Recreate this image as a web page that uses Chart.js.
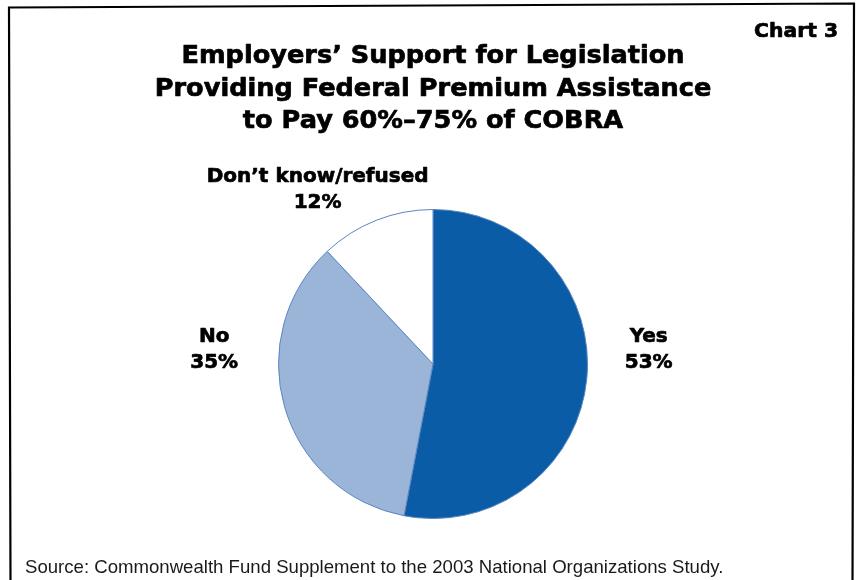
<!DOCTYPE html>
<html>
<head>
<meta charset="utf-8">
<script src="https://cdn.jsdelivr.net/npm/chart.js@4"></script>
<style>
  html, body { margin: 0; padding: 0; background: #fff; }
  #wrap { width: 859px; height: 580px; }
</style>
</head>
<body>
<div id="wrap"><canvas id="cobraChart" width="859" height="580"></canvas></div>
<script>
// --- Survey results ---
const categories = ['Yes', 'No', 'Don\u2019t know/refused'];
const shares = [53, 35, 12];
const sliceColors = ['#0B5CA6', '#9BB5D8', '#FFFFFF'];

const titleLines = [
    'Employers\u2019 Support for Legislation',
    'Providing Federal Premium Assistance',
    'to Pay 60%\u201375% of COBRA'
];
const chartTag = 'Chart 3';
const sourceNote = 'Source: Commonwealth Fund Supplement to the 2003 National Organizations Study.';

// where each slice label sits: angle (deg, clockwise from top) and distance as a factor of the radius
const labelPlacement = [
    { angle: 85.8, dist: 1.40 },
    { angle: 274.2, dist: 1.42 },
    { angle: 326.7, dist: 1.36 }
];

const HEAVY = '"DejaVu Sans", "Liberation Sans", Arial, sans-serif';
const PLAIN = '"Liberation Sans", Arial, sans-serif';

// bold text with a thin outline so it reads as a black weight
function heavyText(ctx, text, x, y) {
    ctx.fillText(text, x, y);
    ctx.strokeText(text, x, y);
}

// frame, headings, source line and slice labels
const decorPlugin = {
    id: 'decor',
    afterDraw(chart) {
        const ctx = chart.ctx;
        ctx.save();

        // outer frame (open at the bottom, slightly skewed like a scanned page)
        ctx.strokeStyle = '#000';
        ctx.lineWidth = 2.2;
        ctx.lineJoin = 'miter';
        ctx.beginPath();
        ctx.moveTo(10.5, 582);
        ctx.lineTo(9, 7.5);
        ctx.lineTo(854, 3.5);
        ctx.lineTo(852.5, 582);
        ctx.stroke();

        ctx.fillStyle = '#000';
        ctx.strokeStyle = '#000';
        ctx.lineWidth = 0.7;
        ctx.lineJoin = 'round';
        ctx.textBaseline = 'alphabetic';

        ctx.textAlign = 'center';
        ctx.font = 'bold 25.6px ' + HEAVY;
        titleLines.forEach((line, i) => {
            heavyText(ctx, line, 433, 63 + i * 32.5);
        });

        ctx.font = 'bold 20.3px ' + HEAVY;
        ctx.textAlign = 'right';
        heavyText(ctx, chartTag, 838, 37);

        ctx.fillStyle = '#1a1a1a';
        ctx.font = '18.6px ' + PLAIN;
        ctx.textAlign = 'left';
        ctx.fillText(sourceNote, 25, 573);

        // slice labels: name over percentage
        const meta = chart.getDatasetMeta(0);
        ctx.fillStyle = '#000';
        ctx.font = 'bold 20px ' + HEAVY;
        ctx.textAlign = 'center';
        meta.data.forEach((arc, i) => {
            const p = labelPlacement[i];
            const a = p.angle * Math.PI / 180;
            const r = arc.outerRadius * p.dist;
            const x = arc.x + Math.sin(a) * r;
            const y = arc.y - Math.cos(a) * r;
            heavyText(ctx, categories[i], x, y - 6);
            heavyText(ctx, shares[i] + '%', x, y + 20);
        });

        ctx.restore();
    }
};

function initChart() {
    const ctx = document.getElementById('cobraChart').getContext('2d');
    new Chart(ctx, {
        type: 'pie',
        data: {
            labels: categories,
            datasets: [{
                data: shares,
                backgroundColor: sliceColors,
                borderColor: '#5A86C0',
                borderWidth: 1
            }]
        },
        options: {
            responsive: false,
            animation: false,
            layout: {
                padding: { top: 209, bottom: 61, left: 200, right: 193 }
            },
            plugins: {
                legend: { display: false },
                tooltip: { enabled: false }
            }
        },
        plugins: [decorPlugin]
    });
}

document.addEventListener('DOMContentLoaded', initChart);
</script>
</body>
</html>
